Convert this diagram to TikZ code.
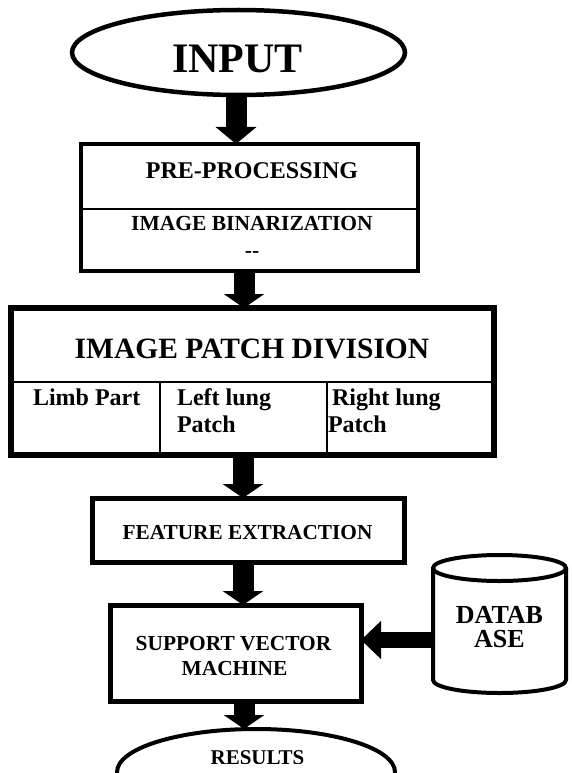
\documentclass[tikz,border=0pt]{standalone}
\usepackage{fontspec}
\setmainfont{Liberation Serif}
\usetikzlibrary{arrows.meta,shapes.geometric}
\newcommand\fsz[1]{\fontsize{#1}{#1}\selectfont}
\begin{document}
\begin{tikzpicture}[x=1pt,y=-1pt,
  boxnode/.style={draw, rectangle, inner sep=0pt, outer sep=0pt},
  ovalnode/.style={draw, ellipse, inner sep=0pt, outer sep=0pt},
  txt/.style={anchor=base, inner sep=0pt, outer sep=0pt},
  txtl/.style={anchor=base west, inner sep=0pt, outer sep=0pt},
  divline/.style={line width=2pt},
  blk/.style={line width=21pt, -{Triangle[width=40pt,length=14pt]}},
  blkh/.style={line width=16pt, -{Triangle[width=37pt,length=20pt]}},
  font=\bfseries]
\useasboundingbox (0,0) rectangle (571,773);

% INPUT
\node[ovalnode, line width=4.5pt, minimum width=333pt, minimum height=85pt] (input) at (238.5,52.5) {};
\node[txt, font=\bfseries\fsz{42}] (tinput) at (237.5,73) {INPUT};

% PRE-PROCESSING box
\node[boxnode, line width=4.5pt, minimum width=337pt, minimum height=127pt] (pre) at (249.5,207.5) {};
\coordinate (d1) at (0,209);
\draw[divline] (pre.west |- d1) -- (pre.east |- d1);
\node[txt, font=\bfseries\fsz{24}] (tpre) at (252,178) {PRE-PROCESSING};
\node[txt, font=\bfseries\fsz{21.5}] (tbin) at (252,230) {IMAGE BINARIZATION};
\node[txt, font=\bfseries\fsz{21.5}] (tdash) at (252,257) {-{}-};

% IMAGE PATCH DIVISION box
\node[boxnode, line width=6pt, minimum width=483pt, minimum height=147pt] (ipd) at (252.5,381.5) {};
\coordinate (d2) at (0,382);
\coordinate (v1) at (160,382);
\coordinate (v2) at (327,382);
\draw[divline] (ipd.west |- d2) -- (ipd.east |- d2);
\draw[divline] (v1) -- (v1 |- ipd.south);
\draw[divline] (v2) -- (v2 |- ipd.south);
\node[txt, font=\bfseries\fsz{29.5}] (tipd) at (252,358) {IMAGE PATCH DIVISION};
\node[txtl, font=\bfseries\fsz{24}] (tlimb) at (33,405) {Limb Part};
\node[txtl, font=\bfseries\fsz{24}] (tleft1) at (177,405) {Left lung};
\node[txtl, font=\bfseries\fsz{24}] (tleft2) at (177,432) {Patch};
\node[txtl, font=\bfseries\fsz{24}] (tright1) at (332,405) {Right lung};
\node[txtl, font=\bfseries\fsz{24}] (tright2) at (328,432) {Patch};

% FEATURE EXTRACTION box
\node[boxnode, line width=5pt, minimum width=312pt, minimum height=64pt] (fe) at (248,530) {};
\node[txt, font=\bfseries\fsz{21.3}] (tfe) at (247.5,539) {FEATURE EXTRACTION};

% SVM box
\node[boxnode, line width=5pt, minimum width=251pt, minimum height=96pt] (svm) at (235.5,653) {};
\node[txt, font=\bfseries\fsz{21.4}] (tsvm1) at (233.5,650) {SUPPORT VECTOR};
\node[txt, font=\bfseries\fsz{21.4}] (tsvm2) at (234.5,675) {MACHINE};

% DATABASE cylinder
\node[rectangle, draw=none, inner sep=0pt, outer sep=0pt, minimum width=133pt, minimum height=112pt] (db) at (499.5,624) {};
\draw[line width=4pt, fill=white] (db.north west) -- (db.south west)
  arc[start angle=180, end angle=360, x radius=66.5pt, y radius=13pt] -- (db.north east);
\draw[line width=4pt] (db.north) ellipse[x radius=66.5pt, y radius=13pt];
\node[txt, font=\bfseries\fsz{26}] (tdb1) at (499.5,623) {DATAB};
\node[txt, font=\bfseries\fsz{26}] (tdb2) at (499.5,647) {ASE};

% RESULTS
\node[ovalnode, line width=4pt, minimum width=278pt, minimum height=86pt] (res) at (256,772) {};
\begin{scope}
  \clip (0,0) rectangle (571,763);
  \node[txt, font=\bfseries\fsz{21}] (tres) at (257.5,764) {RESULTS};
\end{scope}

% arrows
\coordinate (a1) at ([xshift=-2.5pt]input.south);
\coordinate (a2) at ([xshift=-5.5pt]pre.south);
\coordinate (a3) at ([xshift=-9.5pt]ipd.south);
\coordinate (a4) at ([xshift=-5pt]fe.south);
\coordinate (a5) at ([xshift=8.5pt]svm.south);
\coordinate (a6) at ([yshift=13pt]svm.east);
\draw[line width=21pt, -{Triangle[width=40pt,length=17pt]}] (a1) -- (a1 |- pre.north);
\draw[blk] (a2) -- (a2 |- ipd.north);
\draw[blk] (a3) -- (a3 |- fe.north);
\draw[blk] (a4) -- (a4 |- svm.north);
\draw[blk] (a5) -- (a5 |- res.north);
\draw[blkh] (db.west |- a6) -- (a6);
\end{tikzpicture}
\end{document}
